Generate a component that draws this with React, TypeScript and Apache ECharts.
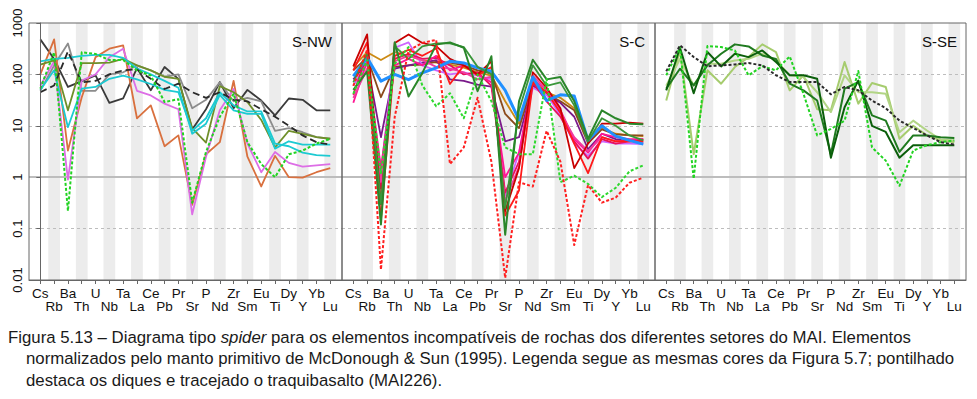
import React, { useEffect, useRef } from 'react';
import * as echarts from 'echarts';

// ---------- categories and ticks ----------
const elements = ['Cs', 'Rb', 'Ba', 'Th', 'U', 'Nb', 'Ta', 'La', 'Ce', 'Pb', 'Pr', 'Sr', 'P', 'Nd', 'Zr', 'Sm', 'Eu', 'Ti', 'Dy', 'Y', 'Yb', 'Lu'];
const bandElements = ['Rb', 'Th', 'Nb', 'La', 'Pb', 'Sr', 'Nd', 'Sm', 'Ti', 'Y', 'Lu'];
const yTicks = [0.01, 0.1, 1, 10, 100, 1000];
const yTickLabels = ['0.01', '0.1', '1', '10', '100', '1000'];
const dashedGridValues = [0.1, 10, 100];
const solidGridValues = [1];
const panelNames = ['S-NW', 'S-C', 'S-SE'];

// ---------- S-NW ----------
const nwDarkGrey = [480, 200, 57, 74, 96, 28, 34, 133, 49, 139, 82, 8.5, 21, 71, 22, 50, 31, 16, 34, 32, 20, 20];
const nwGrey = [48, 150, 400, 48, 48, 100, 110, 150, 120, 90, 100, 22, 32, 70, 30, 35, 30, 8, 9, 7.5, 6, 5.6];
const nwDashed = [45, 61, 280, 70, 75, 100, 120, 125, 82, 52, 66, 45, 35, 45, 32, 30, 21, 15, 10, 6.5, 4.8, 4.3];
const nwOrange = [100, 480, 3.3, 36, 217, 316, 365, 14, 25, 4, 6.5, 0.29, 2.8, 4.8, 75, 2.5, 0.66, 2.6, 1.0, 0.98, 1.25, 1.5];
const nwOrchid = [60, 180, 0.9, 76, 100, 215, 316, 48, 39, 27, 21, 0.19, 2.5, 20, 52, 4.5, 1.25, 3.1, 1.9, 1.6, 1.7, 1.8];
const nwOlive = [155, 187, 20, 165, 165, 170, 200, 150, 120, 90, 82, 9, 4.7, 59, 45, 29, 13, 3.8, 8, 7, 6, 5.6];
const nwCyanA = [180, 200, 210, 230, 240, 240, 210, 130, 100, 75, 55, 7, 11, 40, 20, 17, 17, 3.6, 5, 4.3, 4.3, 4.3];
const nwCyanB = [50, 120, 9.4, 53, 57, 82, 95, 80, 65, 50, 45, 8, 14, 45, 25, 19, 19, 4.5, 4, 3, 2.7, 2.6];
const nwGreenDotted = [53, 270, 0.22, 270, 250, 190, 190, 120, 95, 29, 33, 0.32, 3.1, 15, 42, 4.8, 1.8, 1.0, 2.8, 3.3, 4.5, 5.6];

// ---------- S-C ----------
const scBlue = [92, 210, 74, 100, 79, 107, 134, 180, 167, 134, 115, 49, 13, 89, 31, 40, 38, 5.2, 10, 6.3, 5.2, 4.4];
const scGold = [140, 270, 190, 270, 230, 190, 170, 155, 135, 110, 95, 30, 11, 75, 45, 35, 22, 5, 9, 7, 6.5, 6.3];
const scBrown = [120, 215, 36, 140, 150, 155, 175, 170, 150, 120, 105, 17, 9, 65, 42, 30, 20, 4.6, 8.5, 6.8, 6.6, 6.5];
const scPurple = [80, 170, 6, 130, 150, 170, 190, 80, 75, 63, 58, 5, 6, 60, 40, 28, 15, 3.5, 7, 5.5, 5, 5.2];
const scViolet = [60, 170, 1.2, 330, 420, 150, 120, 100, 110, 95, 80, 0.45, 3, 55, 40, 16, 4.5, 2.6, 5, 4.5, 4.5, 4.4];
const scDarkRed = [145, 600, 0.3, 410, 600, 410, 355, 200, 150, 100, 180, 0.22, 1.5, 110, 55, 22, 1.5, 4.5, 11, 11, 11.5, 11];
const scRed = [120, 420, 0.15, 230, 300, 230, 320, 65, 150, 95, 140, 0.18, 0.55, 70, 45, 18, 4.5, 1.2, 6, 5, 5, 5];
const scCrimson = [40, 250, 0.6, 200, 250, 200, 210, 150, 100, 110, 60, 0.5, 2, 70, 30, 15, 5, 2.3, 5.5, 4.5, 5, 5.5];
const scPink = [28, 180, 1.5, 150, 200, 150, 230, 120, 150, 100, 70, 1.0, 3, 80, 50, 20, 5.5, 3, 7, 6, 5.5, 5.5];
const scHotPink = [35, 130, 0.8, 180, 230, 190, 140, 130, 110, 80, 90, 0.35, 1.6, 95, 50, 18, 6, 3.2, 6, 5, 5, 4.8];
const scGreenA = [50, 115, 0.12, 420, 37, 107, 380, 420, 330, 47, 225, 0.076, 30, 193, 80, 89, 30, 5.6, 20, 14, 11, 10.7];
const scGreenB = [70, 260, 0.3, 350, 200, 350, 400, 400, 340, 140, 100, 0.25, 20, 150, 60, 70, 25, 5, 14, 10, 6.5, 5.2];
const scGreenDotted = [42, 190, 1.2, 160, 340, 61, 24, 43, 14, 100, 30, 3.8, 2.8, 2.8, 82, 0.8, 1.07, 0.74, 0.41, 0.62, 1.3, 1.7];
const scRedDotted = [60, 300, 0.016, 15, 290, 410, 470, 1.8, 3.8, 35, 2, 0.011, 0.8, 0.66, 8, 2, 0.048, 0.7, 0.32, 0.4, 0.78, 0.98];

// ---------- S-SE ----------
const seDashed = [115, 367, 218, 144, 150, 156, 166, 150, 96, 71, 71, 71, 41, 57, 49, 31, 22, 12.6, 9.1, 6.5, 4.8, 4.3];
const seDarkA = [49, 330, 43, 272, 143, 253, 217, 293, 174, 96, 96, 82, 2.4, 23, 76, 10, 7.6, 2.4, 4.2, 4.2, 4.2, 4.2];
const seDarkB = [53, 129, 61, 150, 252, 384, 350, 234, 200, 66, 49, 31, 2.8, 53, 71, 16, 12.6, 3.1, 6.5, 6.5, 6, 5.8];
const seLightA = [31, 293, 2.8, 120, 66, 139, 217, 384, 272, 49, 96, 21, 20, 174, 27, 68, 57, 5.6, 10, 6.5, 5.2, 4.8];
const seLightB = [60, 200, 61, 161, 161, 187, 202, 253, 187, 96, 89, 45, 18.5, 96, 45, 45, 42, 7.5, 12.6, 8.1, 5.4, 5.2];
const seGreenDotted = [96, 340, 0.93, 357, 340, 293, 96, 144, 120, 224, 42, 6.5, 8.7, 12.6, 116, 3.8, 2.1, 0.68, 3.3, 4.2, 4.8, 5.2];

// ---------- caption ----------
const captionLines = [
  'Figura 5.13 – Diagrama tipo {i|spider} para os elementos incompatíveis de rochas dos diferentes setores do MAI. Elementos',
  'normalizados pelo manto primitivo de McDonough & Sun (1995). Legenda segue as mesmas cores da Figura 5.7; pontilhado',
  'destaca os diques e tracejado o traquibasalto (MAI226).',
];

type Spec = { data: number[]; color: string; width: number; dash?: number[] };

const panels: Spec[][] = [
  [
    { data: nwDarkGrey, color: '#3a3a3a', width: 1.8 },
    { data: nwGrey, color: '#8c8c8c', width: 1.8 },
    { data: nwOrange, color: '#d9703e', width: 1.8 },
    { data: nwOrchid, color: '#dd6ee6', width: 1.8 },
    { data: nwOlive, color: '#6f8f2a', width: 1.8 },
    { data: nwCyanA, color: '#1ccad2', width: 1.8 },
    { data: nwCyanB, color: '#1ccad2', width: 1.8 },
    { data: nwDashed, color: '#2a2a2a', width: 1.8, dash: [7, 4] },
    { data: nwGreenDotted, color: '#22d322', width: 2, dash: [3, 2] },
  ],
  [
    { data: scGold, color: '#cc8a14', width: 1.8 },
    { data: scBrown, color: '#8b4a1a', width: 1.8 },
    { data: scPurple, color: '#7a1a8a', width: 1.8 },
    { data: scViolet, color: '#cc66ff', width: 1.8 },
    { data: scCrimson, color: '#e8105a', width: 1.8 },
    { data: scPink, color: '#ff1493', width: 1.8 },
    { data: scHotPink, color: '#f03ca0', width: 1.8 },
    { data: scRed, color: '#ff1a1a', width: 1.8 },
    { data: scDarkRed, color: '#c80000', width: 1.8 },
    { data: scBlue, color: '#2090ff', width: 3 },
    { data: scGreenB, color: '#3a963a', width: 1.8 },
    { data: scGreenA, color: '#2a862a', width: 2 },
    { data: scGreenDotted, color: '#2ed82e', width: 2, dash: [3, 2] },
    { data: scRedDotted, color: '#ff2020', width: 2, dash: [3, 2] },
  ],
  [
    { data: seLightA, color: '#a6cc6e', width: 2 },
    { data: seLightB, color: '#b2d585', width: 2 },
    { data: seDarkB, color: '#1f7a1f', width: 2 },
    { data: seDarkA, color: '#0b5f0b', width: 2 },
    { data: seGreenDotted, color: '#22d322', width: 2, dash: [3, 2] },
    { data: seDashed, color: '#2a2a2a', width: 2, dash: [3, 2] },
  ],
];

const grids = [
  { left: 29, width: 313 },
  { left: 342, width: 313 },
  { left: 655, width: 311 },
];
const panelLabelRight = [332, 645, 957];

const FONT = "'Liberation Sans', Arial, sans-serif";
const CAPTION_SIZE = 16.8;
const X_MIN = -0.82;
const X_MAX = 21.85;

function buildOption() {
  const evenIdx = elements.map((_, i) => i).filter((i) => i % 2 === 0);
  const oddIdx = elements.map((_, i) => i).filter((i) => i % 2 === 1);
  const allIdx = elements.map((_, i) => i);
  const series: any[] = [];
  panels.forEach((specs, g) => {
    specs.forEach((s, k) => {
      const item: any = {
        type: 'line',
        xAxisIndex: g * 2,
        yAxisIndex: g,
        data: s.data.map((v, i) => [i, v]),
        symbol: 'none',
        silent: true,
        z: 2,
        lineStyle: { color: s.color, width: s.width, type: s.dash ? s.dash : 'solid', cap: 'butt', join: 'round' },
        itemStyle: { color: s.color },
      };
      if (k === 0) {
        item.markArea = {
          silent: true,
          z: 1,
          itemStyle: { color: '#ececec' },
          data: bandElements.map((e) => {
            const i = elements.indexOf(e);
            return [{ xAxis: i - 0.425 }, { xAxis: i + 0.425 }];
          }),
        };
        item.markLine = {
          silent: true,
          z: 1.5,
          symbol: 'none',
          label: { show: false },
          data: [
            ...dashedGridValues.map((v) => ({ yAxis: v, lineStyle: { type: [3, 3], color: '#bdbdbd', width: 1 } })),
            ...solidGridValues.map((v) => ({ yAxis: v, lineStyle: { type: 'solid', color: '#bdbdbd', width: 2 } })),
          ],
        };
      }
      series.push(item);
    });
  });

  const graphic: any[] = [];
  panelNames.forEach((name, g) => {
    graphic.push({
      type: 'text',
      x: panelLabelRight[g],
      y: 41,
      z: 10,
      style: { text: name, fill: '#111', font: `15px ${FONT}`, textAlign: 'right', textVerticalAlign: 'middle' },
    });
  });
  const capX = [8, 26, 26];
  const capY = [337, 358, 380];
  captionLines.forEach((t, i) => {
    graphic.push({
      type: 'text',
      x: capX[i],
      y: capY[i],
      z: 10,
      style: {
        text: t,
        fill: '#1a1a1a',
        fontSize: CAPTION_SIZE,
        fontFamily: FONT,
        textAlign: 'left',
        textVerticalAlign: 'middle',
        rich: { i: { fontStyle: 'italic', fontSize: CAPTION_SIZE, fontFamily: FONT, fill: '#1a1a1a' } },
      },
    });
  });

  const labelStyle = {
    fontSize: 13.5,
    fontFamily: FONT,
    color: '#111',
    showMinLabel: true,
    showMaxLabel: true,
    formatter: (v: number) => elements[Math.round(v)] ?? '',
  };

  const xAxis: any[] = [];
  grids.forEach((_, g) => {
    // main axis: line, ticks, top-row labels (even positions)
    xAxis.push({
      gridIndex: g,
      type: 'value',
      position: 'bottom',
      min: X_MIN,
      max: X_MAX,
      z: 3,
      axisLine: { show: true, onZero: false, lineStyle: { color: '#666' } },
      axisTick: { show: true, customValues: allIdx, length: 4, lineStyle: { color: '#666' } },
      axisLabel: { ...labelStyle, customValues: evenIdx, margin: 6 },
      splitLine: { show: false },
    });
    // second row of labels (odd positions)
    xAxis.push({
      gridIndex: g,
      type: 'value',
      position: 'bottom',
      offset: 0,
      min: X_MIN,
      max: X_MAX,
      z: 3,
      axisLine: { show: false, onZero: false },
      axisTick: { show: false },
      axisLabel: { ...labelStyle, customValues: oddIdx, margin: 19 },
      splitLine: { show: false },
    });
  });

  return {
    animation: false,
    backgroundColor: '#ffffff',
    textStyle: { fontFamily: FONT },
    grid: grids.map((gr) => ({
      left: gr.left,
      top: 23,
      width: gr.width,
      height: 257,
      show: true,
      z: 3,
      borderColor: '#666',
      borderWidth: 1,
      backgroundColor: 'transparent',
    })),
    xAxis,
    yAxis: grids.map((_, g) => ({
      gridIndex: g,
      type: 'log',
      logBase: 10,
      min: 0.01,
      max: 1000,
      z: 3,
      axisLine: { show: g === 0, lineStyle: { color: '#666' } },
      axisTick: { show: g === 0, customValues: yTicks, length: 4, lineStyle: { color: '#666' } },
      axisLabel: {
        show: g === 0,
        customValues: yTicks,
        showMinLabel: true,
        showMaxLabel: true,
        rotate: 90,
        margin: 5,
        fontSize: 13,
        fontFamily: FONT,
        color: '#111',
        formatter: (v: number) => {
          const k = yTicks.findIndex((t) => Math.abs(Math.log10(t) - Math.log10(v)) < 1e-6);
          return k >= 0 ? yTickLabels[k] : '';
        },
      },
      splitLine: { show: false },
    })),
    series,
    graphic,
  };
}

export default function App() {
  const ref = useRef<HTMLDivElement>(null);
  useEffect(() => {
    if (!ref.current) return;
    const chart = echarts.init(ref.current, null, { renderer: 'svg' });
    chart.setOption(buildOption() as any);
    return () => chart.dispose();
  }, []);
  return (
    <div
      ref={ref}
      style={{ position: 'fixed', left: 0, top: 0, width: 977, height: 399, background: '#fff' }}
    />
  );
}
